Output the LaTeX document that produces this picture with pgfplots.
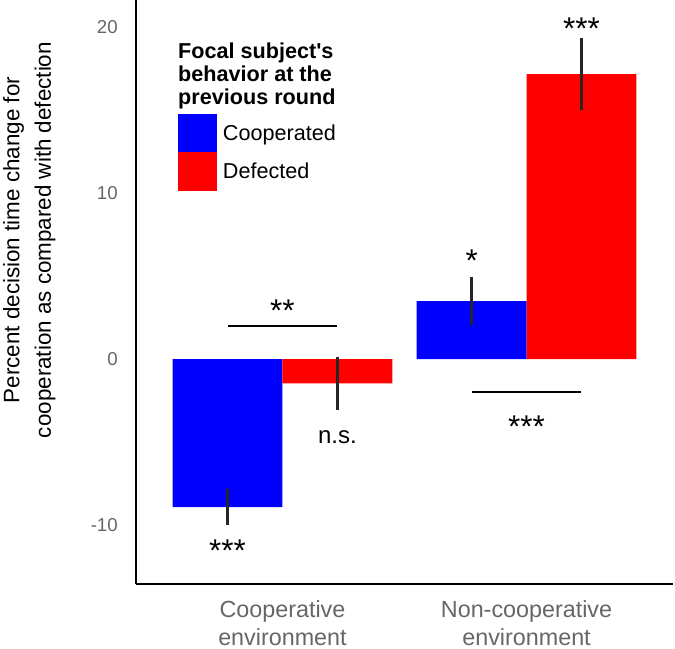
\documentclass[border=0pt]{standalone}
\usepackage{fontspec}
\setmainfont{Liberation Sans}
\newfontfamily\plainsans{Liberation Sans}
\usepackage{pgfplots}
\pgfplotsset{compat=1.18}
\definecolor{tickgray}{RGB}{102,102,102}
\begin{document}
\begin{tikzpicture}
\begin{axis}[
  name=ax,
  at={(0,0)}, anchor=south west,
  scale only axis,
  width=402.75pt, height=438pt,
  xmin=-0.6, xmax=1.6, ymin=-13.55, ymax=21.63,
  axis x line=bottom, axis y line=left,
  axis line style={-, line width=1.1pt, black},
  xtick={0,1},
  xticklabels={{Cooperative\\environment},{Non-cooperative\\environment}},
  ytick={-10,0,10,20}, yticklabels={-10,0,10,20},
  major tick length=0pt, tick style={draw=none},
  xticklabel style={align=center, inner sep=0pt, text=tickgray,
    font=\fontsize{17.5}{20.5}\selectfont, anchor=north, yshift=-12.5pt},
  yticklabel style={inner sep=0pt, text=tickgray,
    font=\fontsize{14}{16}\selectfont, anchor=east, xshift=-13.5pt},
  ylabel={Percent decision time change for\\cooperation as compared with defection},
  ylabel style={align=center, inner sep=0pt, font=\fontsize{16.8}{23.6}\selectfont,
    at={(axis description cs:-0.2477,0.589)}, anchor=north},
  clip=false,
  legend style={at={(axis cs:-0.428,14.76)}, anchor=north west, draw=none, fill=none,
    inner sep=0pt, outer sep=0pt, row sep=0pt, column sep=4.5pt,
    font=\fontsize{16.2}{18}\selectfont, nodes={inner sep=0pt}, cells={anchor=west}},
  myleg/.style={legend image code/.code={\fill[##1] (0pt,-14.4pt) rectangle (29.25pt,14.4pt);}},
]
% bars are drawn at their own x positions (category +- 0.225)
\addplot[ybar, bar width=0.45, bar shift=0, fill=blue, draw=none, myleg,
  error bars/.cd, y dir=both, y explicit, error mark=none,
  error bar style={line width=1.8pt, black!85}]
  coordinates {(-0.225,-8.92) +- (0,1.09) (0.775,3.49) +- (0,1.45)};
\addplot[ybar, bar width=0.45, bar shift=0, fill=red, draw=none, myleg,
  error bars/.cd, y dir=both, y explicit, error mark=none,
  error bar style={line width=1.8pt, black!85}]
  coordinates {(0.225,-1.47) +- (0,1.6) (1.225,17.17) +- (0,2.17)};
\legend{Cooperated, Defected}
% significance brackets
\addplot[black, line width=1.5pt, forget plot] coordinates {(-0.225,1.99) (0.225,1.99)};
\addplot[black, line width=1.5pt, forget plot] coordinates {(0.775,-1.99) (1.225,-1.99)};
% annotations
\node[anchor=base, inner sep=0pt, font=\fontsize{23.6}{24}\selectfont] at (axis cs:-0.225,-12.17) {***};
\node[anchor=base, inner sep=0pt, font=\fontsize{23.6}{24}\selectfont] at (axis cs:0,2.29) {**};
\node[anchor=base, inner sep=0pt, font=\fontsize{18}{20}\selectfont] at (axis cs:0.225,-5.06) {n.s.};
\node[anchor=base, inner sep=0pt, font=\fontsize{23.6}{24}\selectfont] at (axis cs:0.775,5.30) {*};
\node[anchor=base, inner sep=0pt, font=\fontsize{23.6}{24}\selectfont] at (axis cs:1.225,19.22) {***};
\node[anchor=base, inner sep=0pt, font=\fontsize{23.6}{24}\selectfont] at (axis cs:1,-4.70) {***};
\node[anchor=north west, inner sep=0pt, align=left,
  font=\plainsans\bfseries\fontsize{16.2}{17.25}\selectfont]
  at (axis cs:-0.428,19.04) {Focal subject's\\behavior at the\\previous round};
\end{axis}
\pgfresetboundingbox
\useasboundingbox (-102pt,-48.75pt) rectangle (404.25pt,438pt);
\end{tikzpicture}
\end{document}
